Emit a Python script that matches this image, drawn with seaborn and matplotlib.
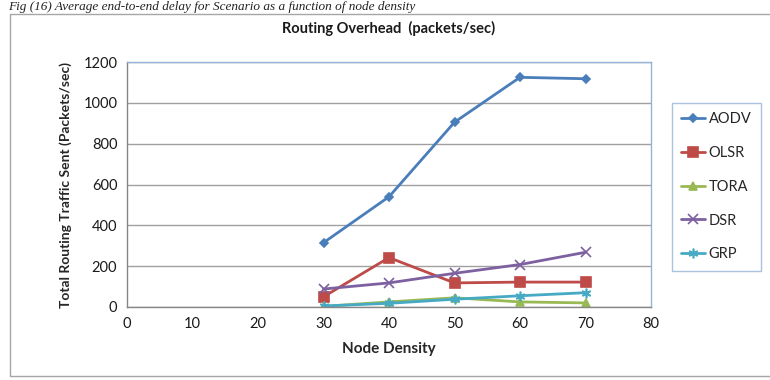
import matplotlib
matplotlib.use("Agg")
import matplotlib.pyplot as plt
from matplotlib.patches import Rectangle
import seaborn as sns
import pandas as pd

# Node density (x axis)
node_density = [30, 40, 50, 60, 70]

# Total routing traffic sent (packets/sec) per protocol
aodv = [315, 540, 905, 1125, 1118]
olsr = [50, 242, 118, 122, 122]
tora = [3, 25, 45, 25, 20]
dsr = [88, 118, 165, 208, 268]
grp = [5, 18, 38, 55, 70]

protocols = ["AODV", "OLSR", "TORA", "DSR", "GRP"]
series = [aodv, olsr, tora, dsr, grp]

x_ticks = [0, 10, 20, 30, 40, 50, 60, 70, 80]
y_ticks = [0, 200, 400, 600, 800, 1000, 1200]

colors = {"AODV": "#4A7EBB", "OLSR": "#BE4B48", "TORA": "#98B954",
          "DSR": "#7D60A0", "GRP": "#46AAC5"}
markers = {"AODV": "D", "OLSR": "s", "TORA": "^", "DSR": "x", "GRP": (6, 2, 0)}
msizes = {"AODV": 4.5, "OLSR": 7, "TORA": 6, "DSR": 7, "GRP": 7}

df = pd.DataFrame({
    "Node Density": [x for _ in protocols for x in node_density],
    "Traffic": [v for s in series for v in s],
    "Protocol": [p for p in protocols for _ in node_density],
})

sns.set_theme(style="white")
plt.rcParams["font.family"] = ["Lato", "DejaVu Sans"]

fig = plt.figure(figsize=(7.7, 3.8), dpi=100)
W, H = 770, 380

# outer chart frame
fig.patches.append(Rectangle((10 / W, 4 / H), 770 / W, (366 - 4) / H,
                             transform=fig.transFigure, fill=False,
                             edgecolor="#A6A6A6", linewidth=1.0))

# caption line above the chart
fig.text(8 / W, 1 - 1 / H,
         "Fig (16) Average end-to-end delay for Scenario as a function of node density",
         family=["Liberation Serif", "DejaVu Serif"], style="italic",
         fontsize=9.5, color="#222222", ha="left", va="top")

ax = fig.add_axes([127 / W, (H - 307) / H, (651 - 127) / W, (307 - 62) / H])

for p in protocols:
    sub = df[df["Protocol"] == p]
    sns.lineplot(data=sub, x="Node Density", y="Traffic", ax=ax,
                 color=colors[p], marker=markers[p], markersize=msizes[p],
                 markeredgecolor=colors[p], markeredgewidth=1.2,
                 linewidth=2.0, label=p, legend=False)

ax.set_xlim(0, 80)
ax.set_ylim(0, 1200)
ax.set_xticks(x_ticks)
ax.set_yticks(y_ticks)
ax.tick_params(axis="both", length=0, labelsize=10.5, colors="#1a1a1a", pad=7)
ax.yaxis.grid(True, color="#A0A0A0", linewidth=1.0)
ax.xaxis.grid(False)
for side in ["top", "right"]:
    ax.spines[side].set_color("#95B3D7")
    ax.spines[side].set_linewidth(1.0)
for side in ["left", "bottom"]:
    ax.spines[side].set_color("#868686")
    ax.spines[side].set_linewidth(1.0)

ax.set_xlabel("Node Density", fontsize=11, fontweight="bold", labelpad=8)
ax.set_ylabel("Total Routing Traffic Sent (Packets/sec)", fontsize=10,
              fontweight="bold", labelpad=8)
fig.text(389 / W, 1 - 28 / H, "Routing Overhead  (packets/sec)", ha="center",
         va="center", fontsize=10.5, fontweight="bold", color="#1a1a1a")

handles, labels = ax.get_legend_handles_labels()
leg = fig.legend(handles, labels, loc="upper left",
                 bbox_to_anchor=(672 / W, 1 - 103 / H), frameon=True,
                 fontsize=10.5, handlelength=1.6, handletextpad=0.25,
                 labelspacing=1.35, borderpad=0.65, fancybox=False,
                 borderaxespad=0)
leg.get_frame().set_edgecolor("#95B3D7")
leg.get_frame().set_linewidth(1.0)

fig.savefig("out.png", dpi=100)
